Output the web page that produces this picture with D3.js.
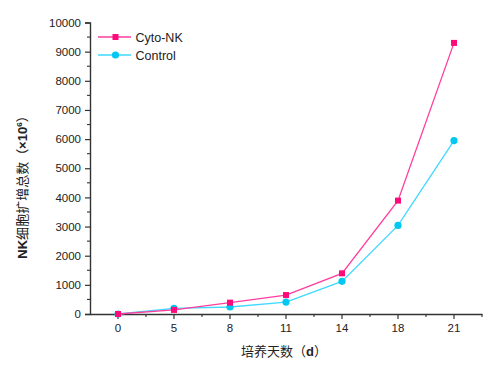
<!DOCTYPE html>
<html>
<head>
<meta charset="utf-8">
<script src="https://cdn.jsdelivr.net/npm/d3@7"></script>
<style>
  body { margin: 0; background: #fff; }
  svg { display: block; }
</style>
</head>
<body>
<svg width="500" height="374"></svg>
<script>
// days of culture and total NK counts (x10^6)
const days = ["0", "5", "8", "11", "14", "18", "21"];
const cytoNK = [0, 140, 390, 650, 1395, 3890, 9300];
const control = [0, 195, 240, 410, 1120, 3040, 5950];
const yTicks = [0, 1000, 2000, 3000, 4000, 5000, 6000, 7000, 8000, 9000, 10000];

const svg = d3.select("svg");
const font = "Arial, 'Liberation Sans', sans-serif";
const cjk = "'Noto Sans CJK SC', sans-serif";

const x = d3.scaleBand().domain(days).range([90, 482]);
const y = d3.scaleLinear().domain([0, 10000]).range([314, 22.5]);
const cx = d => x(d) + x.bandwidth() / 2;

// y axis
const yAxis = svg.append("g")
  .attr("transform", "translate(90,0)")
  .call(d3.axisLeft(y).tickValues(yTicks).tickSize(5).tickPadding(4).tickFormat(d3.format("d")));
yAxis.select(".domain").attr("stroke", "#333").attr("stroke-width", 1.4);
yAxis.selectAll(".tick line").attr("stroke", "#333").attr("stroke-width", 1.2);
yAxis.selectAll("text").style("font-family", font).style("font-size", "11.5px").attr("fill", "#222");

// y minor ticks
svg.append("g").selectAll("line")
  .data(d3.range(500, 10000, 1000))
  .join("line")
  .attr("x1", 87).attr("x2", 90)
  .attr("y1", d => y(d)).attr("y2", d => y(d))
  .attr("stroke", "#333").attr("stroke-width", 1.1);

// x axis
const xAxis = svg.append("g")
  .attr("transform", "translate(0,314)")
  .call(d3.axisBottom(x).tickSize(5).tickPadding(5).tickSizeOuter(0));
xAxis.select(".domain").attr("stroke", "#333").attr("stroke-width", 1.4);
xAxis.selectAll(".tick line").attr("stroke", "#333").attr("stroke-width", 1.2);
xAxis.selectAll("text").style("font-family", font).style("font-size", "11.5px").attr("fill", "#222");

// x minor ticks at band edges
svg.append("g").selectAll("line")
  .data(days.slice(1).map(d => x(d)).concat([482]))
  .join("line")
  .attr("x1", d => d).attr("x2", d => d)
  .attr("y1", 314).attr("y2", 317)
  .attr("stroke", "#333").attr("stroke-width", 1.1);

const line = d3.line().x((d, i) => cx(days[i])).y(d => y(d));

// Control
svg.append("path").datum(control)
  .attr("d", line).attr("fill", "none")
  .attr("stroke", "#3fd9ff").attr("stroke-width", 1.3);
svg.append("g").selectAll("circle")
  .data(control).join("circle")
  .attr("cx", (d, i) => cx(days[i])).attr("cy", d => y(d))
  .attr("r", 3.6).attr("fill", "#00c8f2");

// Cyto-NK
svg.append("path").datum(cytoNK)
  .attr("d", line).attr("fill", "none")
  .attr("stroke", "#ff3d9e").attr("stroke-width", 1.3);
svg.append("g").selectAll("rect")
  .data(cytoNK).join("rect")
  .attr("x", (d, i) => cx(days[i]) - 3).attr("y", d => y(d) - 3)
  .attr("width", 6).attr("height", 6).attr("fill", "#ff0a7a");

// legend
const legend = [
  { name: "Cyto-NK", line: "#ff3d9e", mark: "#ff0a7a", shape: "square" },
  { name: "Control", line: "#3fd9ff", mark: "#00c8f2", shape: "circle" }
];
const lg = svg.append("g").selectAll("g")
  .data(legend).join("g")
  .attr("transform", (d, i) => `translate(0,${37 + i * 18})`);
lg.append("line")
  .attr("x1", 98).attr("x2", 131).attr("y1", 0).attr("y2", 0)
  .attr("stroke", d => d.line).attr("stroke-width", 1.3);
lg.filter(d => d.shape === "square").append("rect")
  .attr("x", 112.5).attr("y", -3).attr("width", 6).attr("height", 6)
  .attr("fill", d => d.mark);
lg.filter(d => d.shape === "circle").append("circle")
  .attr("cx", 115.5).attr("cy", 0).attr("r", 3.6)
  .attr("fill", d => d.mark);
lg.append("text")
  .attr("x", 135.5).attr("dy", "0.36em")
  .style("font-family", font).style("font-size", "12.5px").attr("fill", "#222")
  .text(d => d.name);

// x title
const xt = svg.append("text")
  .attr("x", 284).attr("y", 356)
  .attr("text-anchor", "middle")
  .style("font-size", "13px").attr("fill", "#222");
xt.append("tspan").style("font-family", cjk).text("培养天数（");
xt.append("tspan").style("font-family", font).style("font-weight", "bold").text("d");
xt.append("tspan").style("font-family", cjk).text("）");

// y title
const yt = svg.append("text")
  .attr("transform", "translate(27,184) rotate(-90)")
  .attr("text-anchor", "middle")
  .style("font-size", "13px").attr("fill", "#222");
yt.append("tspan").style("font-family", font).style("font-weight", "bold").text("NK");
yt.append("tspan").style("font-family", cjk).text("细胞扩增总数（");
yt.append("tspan").style("font-family", font).style("font-weight", "bold").text("×10");
yt.append("tspan").style("font-family", font).style("font-weight", "bold")
  .style("font-size", "8px").attr("dy", "-5").text("6");
yt.append("tspan").style("font-family", cjk).attr("dy", "5").text("）");
</script>
</body>
</html>
